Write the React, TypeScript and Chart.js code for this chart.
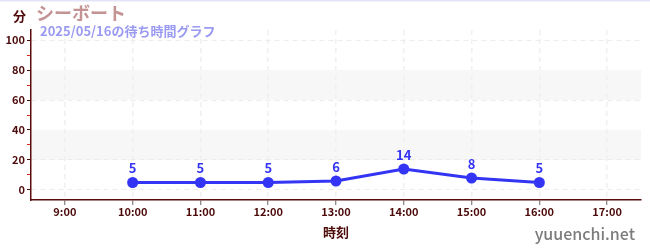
import React, { useEffect, useRef } from "react";
import { Chart, registerables } from "chart.js";

Chart.register(...registerables);

// Hourly wait times (minutes) for the ride
const hours = ["9:00", "10:00", "11:00", "12:00", "13:00", "14:00", "15:00", "16:00", "17:00"];
const waitMinutes: (number | null)[] = [null, 5, 5, 5, 6, 14, 8, 5, null];
const yTickValues = [0, 10, 20, 30, 40, 50, 60, 70, 80, 90, 100];
const shadedBands: [number, number][] = [
  [20, 40],
  [60, 80],
];

const rideName = "シーボート";
const subtitle = "2025/05/16の待ち時間グラフ";
const unitLabel = "分";
const xTitle = "時刻";
const siteMark = "yuuenchi.net";

const FONT = "'Noto Sans CJK JP', 'Noto Sans', sans-serif";
const MAROON = "#4d0a0a";
const LINE_BLUE = "#3434f4";

const decorPlugin = {
  id: "decor",
  beforeDraw(chart: any) {
    const { ctx, chartArea, scales } = chart;
    const y = scales.y;
    ctx.save();
    ctx.fillStyle = "#f7f7f7";
    for (const [lo, hi] of shadedBands) {
      const top = y.getPixelForValue(hi);
      const bot = y.getPixelForValue(lo);
      ctx.fillRect(chartArea.left, top, chartArea.right - chartArea.left, bot - top);
    }
    ctx.restore();
  },
  afterDatasetsDraw(chart: any) {
    const { ctx } = chart;
    const meta = chart.getDatasetMeta(0);
    ctx.save();
    ctx.font = `bold 13px ${FONT}`;
    ctx.fillStyle = LINE_BLUE;
    ctx.textAlign = "center";
    ctx.textBaseline = "middle";
    meta.data.forEach((pt: any, i: number) => {
      const v = waitMinutes[i];
      if (v == null) return;
      ctx.fillText(String(v), pt.x, pt.y - 14);
    });
    ctx.restore();
  },
  afterDraw(chart: any) {
    const { ctx, width } = chart;
    ctx.save();
    // thin top rule
    ctx.fillStyle = "#e4e4f8";
    ctx.fillRect(0, 0, width, 1.5);

    ctx.textBaseline = "middle";
    ctx.textAlign = "left";
    ctx.fillStyle = MAROON;
    ctx.font = `bold 13px ${FONT}`;
    ctx.fillText(unitLabel, 13, 16);

    ctx.fillStyle = "#c49494";
    ctx.font = `bold 18px ${FONT}`;
    ctx.fillText(rideName, 36, 13);

    ctx.fillStyle = "#9a9af2";
    ctx.font = `bold 13px ${FONT}`;
    ctx.fillText(subtitle, 40, 31);

    ctx.fillStyle = "#7c7c7c";
    ctx.font = `500 16px ${FONT}`;
    ctx.textAlign = "right";
    ctx.fillText(siteMark, 635, 234);
    ctx.restore();
  },
};

export default function App() {
  const canvasRef = useRef<HTMLCanvasElement | null>(null);

  useEffect(() => {
    const canvas = canvasRef.current;
    if (!canvas) return;
    const chart = new Chart(canvas, {
      type: "line",
      data: {
        labels: hours,
        datasets: [
          {
            data: waitMinutes,
            borderColor: LINE_BLUE,
            backgroundColor: LINE_BLUE,
            borderWidth: 3,
            pointRadius: 5.5,
            pointHoverRadius: 5.5,
            pointBorderWidth: 0,
            tension: 0,
          },
        ],
      },
      options: {
        animation: false,
        responsive: false,
        events: [],
        layout: { padding: { left: 0, right: 9, top: 30, bottom: 0 } },
        plugins: {
          legend: { display: false },
          tooltip: { enabled: false },
          title: { display: false },
        },
        scales: {
          x: {
            type: "category",
            offset: true,
            afterFit: (scale: any) => {
              scale.height = 50;
            },
            grid: {
              offset: false,
              color: "#f0f0f0",
              lineWidth: 1.5,
              drawTicks: true,
              tickLength: 5,
              tickWidth: 1,
              tickColor: "#666666",
              tickBorderDash: [],
            },
            border: { display: true, color: "#5a0c0c", width: 1.5, dash: [5, 4] },
            ticks: {
              color: MAROON,
              font: { family: FONT, size: 11, weight: "bold" },
              padding: 0,
              maxRotation: 0,
              autoSkip: false,
            },
            title: {
              display: true,
              text: xTitle,
              color: MAROON,
              font: { family: FONT, size: 13, weight: "bold" },
              padding: { top: 0, bottom: 10 },
            },
          },
          y: {
            min: -6.67,
            max: 106.67,
            afterFit: (scale: any) => {
              scale.width = 31;
            },
            afterBuildTicks: (scale: any) => {
              scale.ticks = yTickValues.map((v) => ({ value: v }));
            },
            grid: {
              color: (c: any) => {
                const v = c.tick ? c.tick.value : null;
                return v === 0 || v === 20 || v === 60 || v === 100 ? "#ececec" : "rgba(0,0,0,0)";
              },
              lineWidth: 1,
              drawTicks: true,
              tickLength: 4,
              tickColor: (c: any) => (c.tick && c.tick.value % 20 === 0 ? MAROON : "#e02020"),
              tickBorderDash: [],
            },
            border: { display: true, color: "#5a0c0c", width: 1.5, dash: [5, 4] },
            ticks: {
              color: MAROON,
              font: { family: FONT, size: 11, weight: "bold" },
              padding: 2,
              callback: (v: any) => (Number(v) % 20 === 0 ? String(v) : ""),
            },
          },
        },
      } as any,
      plugins: [decorPlugin],
    });
    return () => chart.destroy();
  }, []);

  return (
    <div style={{ position: "absolute", left: 0, top: 0, width: 650, height: 250, background: "#fff" }}>
      <canvas ref={canvasRef} width={650} height={250} style={{ display: "block" }} />
    </div>
  );
}
